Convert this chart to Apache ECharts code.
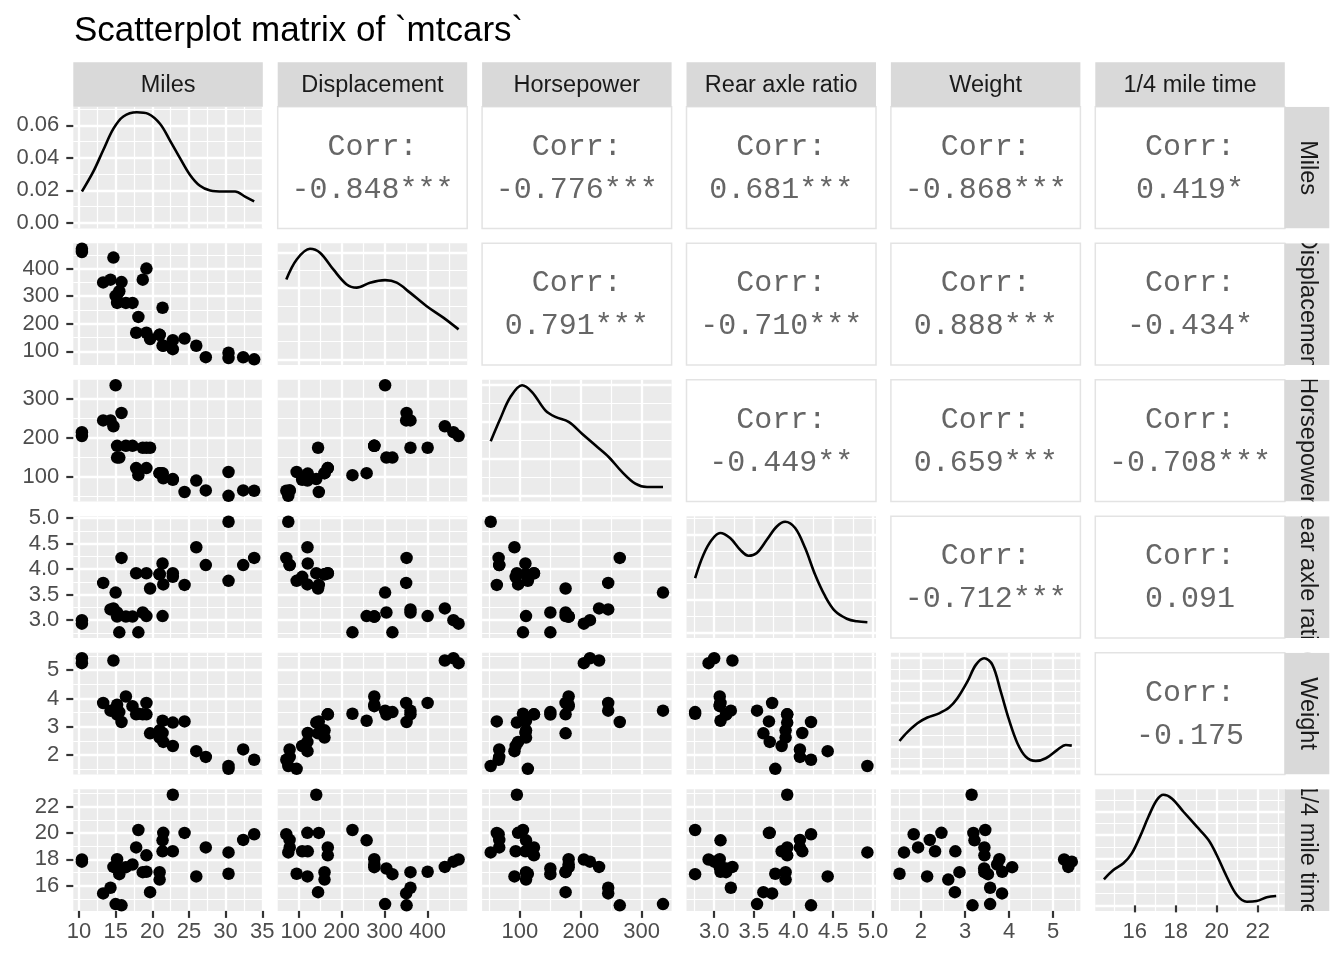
<!DOCTYPE html>
<html><head><meta charset="utf-8">
<script src="https://cdn.jsdelivr.net/npm/echarts@6/dist/echarts.min.js"></script>
<style>html,body{margin:0;padding:0;background:#fff}#c{width:1344px;height:960px}</style>
</head><body><div id="c"></div>
<script>
// ---- data (mtcars) ----
const varNames = ['Miles', 'Displacement', 'Horsepower', 'Rear axle ratio', 'Weight', '1/4 mile time'];
const mpg  = [21.0,21.0,22.8,21.4,18.7,18.1,14.3,24.4,22.8,19.2,17.8,16.4,17.3,15.2,10.4,10.4,14.7,32.4,30.4,33.9,21.5,15.5,15.2,13.3,19.2,27.3,26.0,30.4,15.8,19.7,15.0,21.4];
const disp = [160,160,108,258,360,225,360,146.7,140.8,167.6,167.6,275.8,275.8,275.8,472,460,440,78.7,75.7,71.1,120.1,318,304,350,400,79,120.3,95.1,351,145,301,121];
const hp   = [110,110,93,110,175,105,245,62,95,123,123,180,180,180,205,215,230,66,52,65,97,150,150,245,175,66,91,113,264,175,335,109];
const drat = [3.90,3.90,3.85,3.08,3.15,2.76,3.21,3.69,3.92,3.92,3.92,3.07,3.07,3.07,2.93,3.00,3.23,4.08,4.93,4.22,3.70,2.76,3.15,3.73,3.08,4.08,4.43,3.77,4.22,3.62,3.54,4.11];
const wt   = [2.620,2.875,2.320,3.215,3.440,3.460,3.570,3.190,3.150,3.440,3.440,4.070,3.730,3.780,5.250,5.424,5.345,2.200,1.615,1.835,2.465,3.520,3.435,3.840,3.845,1.935,2.140,1.513,3.170,2.770,3.570,2.780];
const qsec = [16.46,17.02,18.61,19.44,17.02,20.22,15.84,20.00,22.90,18.30,18.90,17.40,17.60,18.00,17.98,17.82,17.42,19.47,18.52,19.90,20.01,16.87,17.30,15.41,17.05,18.90,16.70,16.90,14.50,15.50,14.60,18.60];

// tick labels
const mpgTicks  = [10, 15, 20, 25, 30, 35];
const dispTicks = [100, 200, 300, 400];
const hpTicks   = [100, 200, 300];
const dratTicks = [3.0, 3.5, 4.0, 4.5, 5.0];
const wtTicks   = [2, 3, 4, 5];
const qsecTicks = [16, 18, 20, 22];
const tickDecimals = [0, 0, 0, 1, 0, 0];

// density curves on the diagonal: [x, density]
const mpgDensity  = [[10.4,0.0193],[11.95,0.0315],[13.3,0.0447],[14.7,0.058],[16.05,0.0655],[17.9,0.0681],[19.45,0.0671],[21.05,0.061],[22.4,0.0508],[23.8,0.0397],[25.15,0.0295],[26.5,0.0228],[27.9,0.0199],[29.7,0.0193],[31.3,0.0193],[32.65,0.0162],[33.9,0.0132]];
const dispDensity = [[71.1,0.00224],[95.3,0.0028],[126.2,0.0031],[149.5,0.00299],[180.5,0.00252],[211.6,0.0021],[234.9,0.00201],[265.9,0.00215],[300.8,0.00222],[328,0.00215],[358.9,0.00187],[397.8,0.00149],[436.5,0.00117],[472,0.00084]];
const hpDensity   = [[52,0.00296],[67.7,0.00418],[84.3,0.00536],[103.5,0.006],[119.9,0.00563],[141.7,0.00464],[158.2,0.00428],[180,0.00401],[202,0.00337],[223.9,0.00274],[245.8,0.00211],[267.7,0.0013],[289.6,0.00066],[308.8,0.00048],[335,0.00048]];
const dratDensity = [[2.76,0.334],[2.865,0.477],[2.97,0.569],[3.075,0.611],[3.201,0.58],[3.327,0.508],[3.432,0.471],[3.537,0.488],[3.663,0.569],[3.789,0.651],[3.894,0.68],[4.02,0.641],[4.146,0.518],[4.272,0.354],[4.398,0.222],[4.524,0.13],[4.671,0.084],[4.797,0.068],[4.93,0.062]];
const wtDensity   = [[1.513,0.126],[1.692,0.166],[1.919,0.206],[2.146,0.232],[2.412,0.251],[2.639,0.277],[2.827,0.319],[3.054,0.394],[3.245,0.47],[3.434,0.5],[3.622,0.47],[3.812,0.349],[4.0,0.221],[4.189,0.116],[4.38,0.055],[4.607,0.036],[4.834,0.048],[5.097,0.086],[5.288,0.108],[5.424,0.105]];
const qsecDensity = [[14.5,0.0557],[14.96,0.0755],[15.45,0.0897],[15.86,0.111],[16.26,0.1466],[16.67,0.189],[17.08,0.2247],[17.4,0.236],[17.81,0.2282],[18.38,0.1997],[19.03,0.1678],[19.6,0.1395],[20.0,0.1074],[20.49,0.0611],[20.98,0.0222],[21.47,0.0078],[21.95,0.0094],[22.44,0.0172],[22.9,0.0201]];

const mpgDensityTicks  = [0, 0.02, 0.04, 0.06];
const dispDensityTicks = [0, 0.001, 0.002, 0.003];
const hpDensityTicks   = [0, 0.002, 0.004, 0.006];
const dratDensityTicks = [0, 0.2, 0.4, 0.6];
const wtDensityTicks   = [0, 0.1, 0.2, 0.3, 0.4, 0.5];
const qsecDensityTicks = [0, 0.05, 0.1, 0.15, 0.2];

// correlations (upper triangle, by row)
const corrRow1 = ['-0.848***', '-0.776***', '0.681***', '-0.868***', '0.419*'];
const corrRow2 = ['0.791***', '-0.710***', '0.888***', '-0.434*'];
const corrRow3 = ['-0.449**', '0.659***', '-0.708***'];
const corrRow4 = ['-0.712***', '0.091'];
const corrRow5 = ['-0.175'];

// ---- build ----
const vars = [mpg, disp, hp, drat, wt, qsec];
const ticks = [mpgTicks, dispTicks, hpTicks, dratTicks, wtTicks, qsecTicks];
const dens = [mpgDensity, dispDensity, hpDensity, dratDensity, wtDensity, qsecDensity];
const densTicks = [mpgDensityTicks, dispDensityTicks, hpDensityTicks, dratDensityTicks, wtDensityTicks, qsecDensityTicks];
const corrRows = [corrRow1, corrRow2, corrRow3, corrRow4, corrRow5];

const L0 = 73.3, DX = 204.4, W = 189.5, T0 = 106.7, DY = 136.5, H = 121.7, STRIP = 44.5;
const FONT = "'Liberation Sans', Arial, Helvetica, sans-serif";
const MONO = "'Courier New', 'Liberation Mono', monospace";

function ext(a) {
  const lo = Math.min(...a), hi = Math.max(...a), pad = (hi - lo) * 0.05;
  return [lo - pad, hi + pad];
}
function densExt(d) {
  const peak = Math.max(...d.map(p => p[1]));
  return [-0.05 * peak, 1.05 * peak];
}
function minors(t) {
  const step = t[1] - t[0];
  const out = [t[0] - step / 2];
  t.forEach(v => out.push(+(v + step / 2).toFixed(8)));
  return out;
}

const grid = [], xAxis = [], yAxis = [], series = [], graphic = [];

function addAxes(list, dim, gi, range, tks, showOuter, dec) {
  const idx = list.length;
  const mainPos = dim === 'x' ? 'bottom' : 'left';
  const minorPos = dim === 'x' ? 'top' : 'right';
  list.push({
    type: 'value', gridIndex: gi, min: range[0], max: range[1], position: mainPos,
    axisLine: { show: false },
    axisTick: { show: showOuter, customValues: tks, length: 7, lineStyle: { color: '#333333', width: 2.2 } },
    axisLabel: { show: showOuter, customValues: tks, color: '#4D4D4D', fontSize: 22, fontFamily: FONT,
                 margin: dim === 'x' ? 10 : 14, formatter: v => Number(v).toFixed(dec) },
    splitLine: { show: true, lineStyle: { color: '#FFFFFF', width: 2.3 } }
  });
  list.push({
    type: 'value', gridIndex: gi, min: range[0], max: range[1], position: minorPos,
    axisLine: { show: false },
    axisTick: { show: false, customValues: minors(tks) },
    axisLabel: { show: false },
    splitLine: { show: true, lineStyle: { color: '#FFFFFF', width: 1.2 } }
  });
  return idx;
}

for (let r = 0; r < 6; r++) {
  for (let c = 0; c <= r; c++) {
    const gi = grid.length;
    grid.push({ left: L0 + c * DX, top: T0 + r * DY, width: W, height: H, show: true,
                backgroundColor: '#EBEBEB', borderWidth: 0 });
    const xi = addAxes(xAxis, 'x', gi, ext(vars[c]), ticks[c], r === 5, tickDecimals[c]);
    if (r === c) {
      const yi = addAxes(yAxis, 'y', gi, densExt(dens[r]), densTicks[r], c === 0, 2);
      series.push({ type: 'line', xAxisIndex: xi, yAxisIndex: yi, data: dens[r], smooth: 0.35,
                    showSymbol: false, silent: true, lineStyle: { color: '#000', width: 2.6 } });
    } else {
      const yi = addAxes(yAxis, 'y', gi, ext(vars[r]), ticks[r], c === 0, tickDecimals[r]);
      series.push({ type: 'scatter', xAxisIndex: xi, yAxisIndex: yi, symbolSize: 12.5, silent: true,
                    itemStyle: { color: '#000', opacity: 1 }, data: vars[c].map((v, i) => [v, vars[r][i]]) });
    }
  }
}

// upper triangle correlation panels
corrRows.forEach((row, r) => {
  row.forEach((txt, k) => {
    const c = r + 1 + k;
    const x = L0 + c * DX, y = T0 + r * DY;
    graphic.push({ type: 'rect', shape: { x: x, y: y, width: W, height: H },
                   style: { fill: '#FFFFFF', stroke: '#E3E3E3', lineWidth: 1.5 }, z2: 1 });
    graphic.push({ type: 'text', x: x + W / 2, y: y + H / 2 + 1, z2: 2,
                   style: { text: 'Corr:\n' + txt, align: 'center', verticalAlign: 'middle',
                            fontSize: 30, fontFamily: MONO, lineHeight: 43, fill: '#666666' } });
  });
});

// strips
varNames.forEach((name, i) => {
  const x = L0 + i * DX;
  graphic.push({ type: 'rect', shape: { x: x, y: T0 - STRIP, width: W, height: STRIP },
                 style: { fill: '#D9D9D9' }, z2: 1 });
  graphic.push({ type: 'text', x: x + W / 2, y: T0 - STRIP / 2 + 1, z2: 2,
                 style: { text: name, align: 'center', verticalAlign: 'middle', fontSize: 23.5,
                          fontFamily: FONT, fill: '#1A1A1A' } });
  const xr = L0 + 5 * DX + W, y = T0 + i * DY;
  graphic.push({ type: 'rect', shape: { x: xr, y: y, width: STRIP, height: H },
                 style: { fill: '#D9D9D9' }, z2: 1 });
  graphic.push({ type: 'text', x: xr + STRIP / 2, y: y + H / 2, rotation: -Math.PI / 2, z2: 2,
                 style: { text: name, align: 'center', verticalAlign: 'middle', fontSize: 23.5,
                          fontFamily: FONT, fill: '#1A1A1A' } });
});
// white masks clipping the right strip labels to their strips
for (let i = 0; i <= 6; i++) {
  const xr = L0 + 5 * DX + W + 1;
  const top = i === 0 ? 0 : T0 + (i - 1) * DY + H;
  const bot = i === 6 ? 960 : T0 + i * DY;
  graphic.push({ type: 'rect', shape: { x: xr, y: top, width: 60, height: bot - top },
                 style: { fill: '#FFFFFF' }, z2: 10 });
}

const chart = echarts.init(document.getElementById('c'), null, { renderer: 'canvas' });
chart.setOption({
  animation: false,
  backgroundColor: '#FFFFFF',
  title: { text: 'Scatterplot matrix of `mtcars`', left: 74, top: 14, padding: 0,
           textStyle: { fontSize: 35, fontWeight: 'normal', color: '#000', fontFamily: FONT } },
  grid, xAxis, yAxis, series,
  graphic: { elements: graphic }
});
</script></body></html>
